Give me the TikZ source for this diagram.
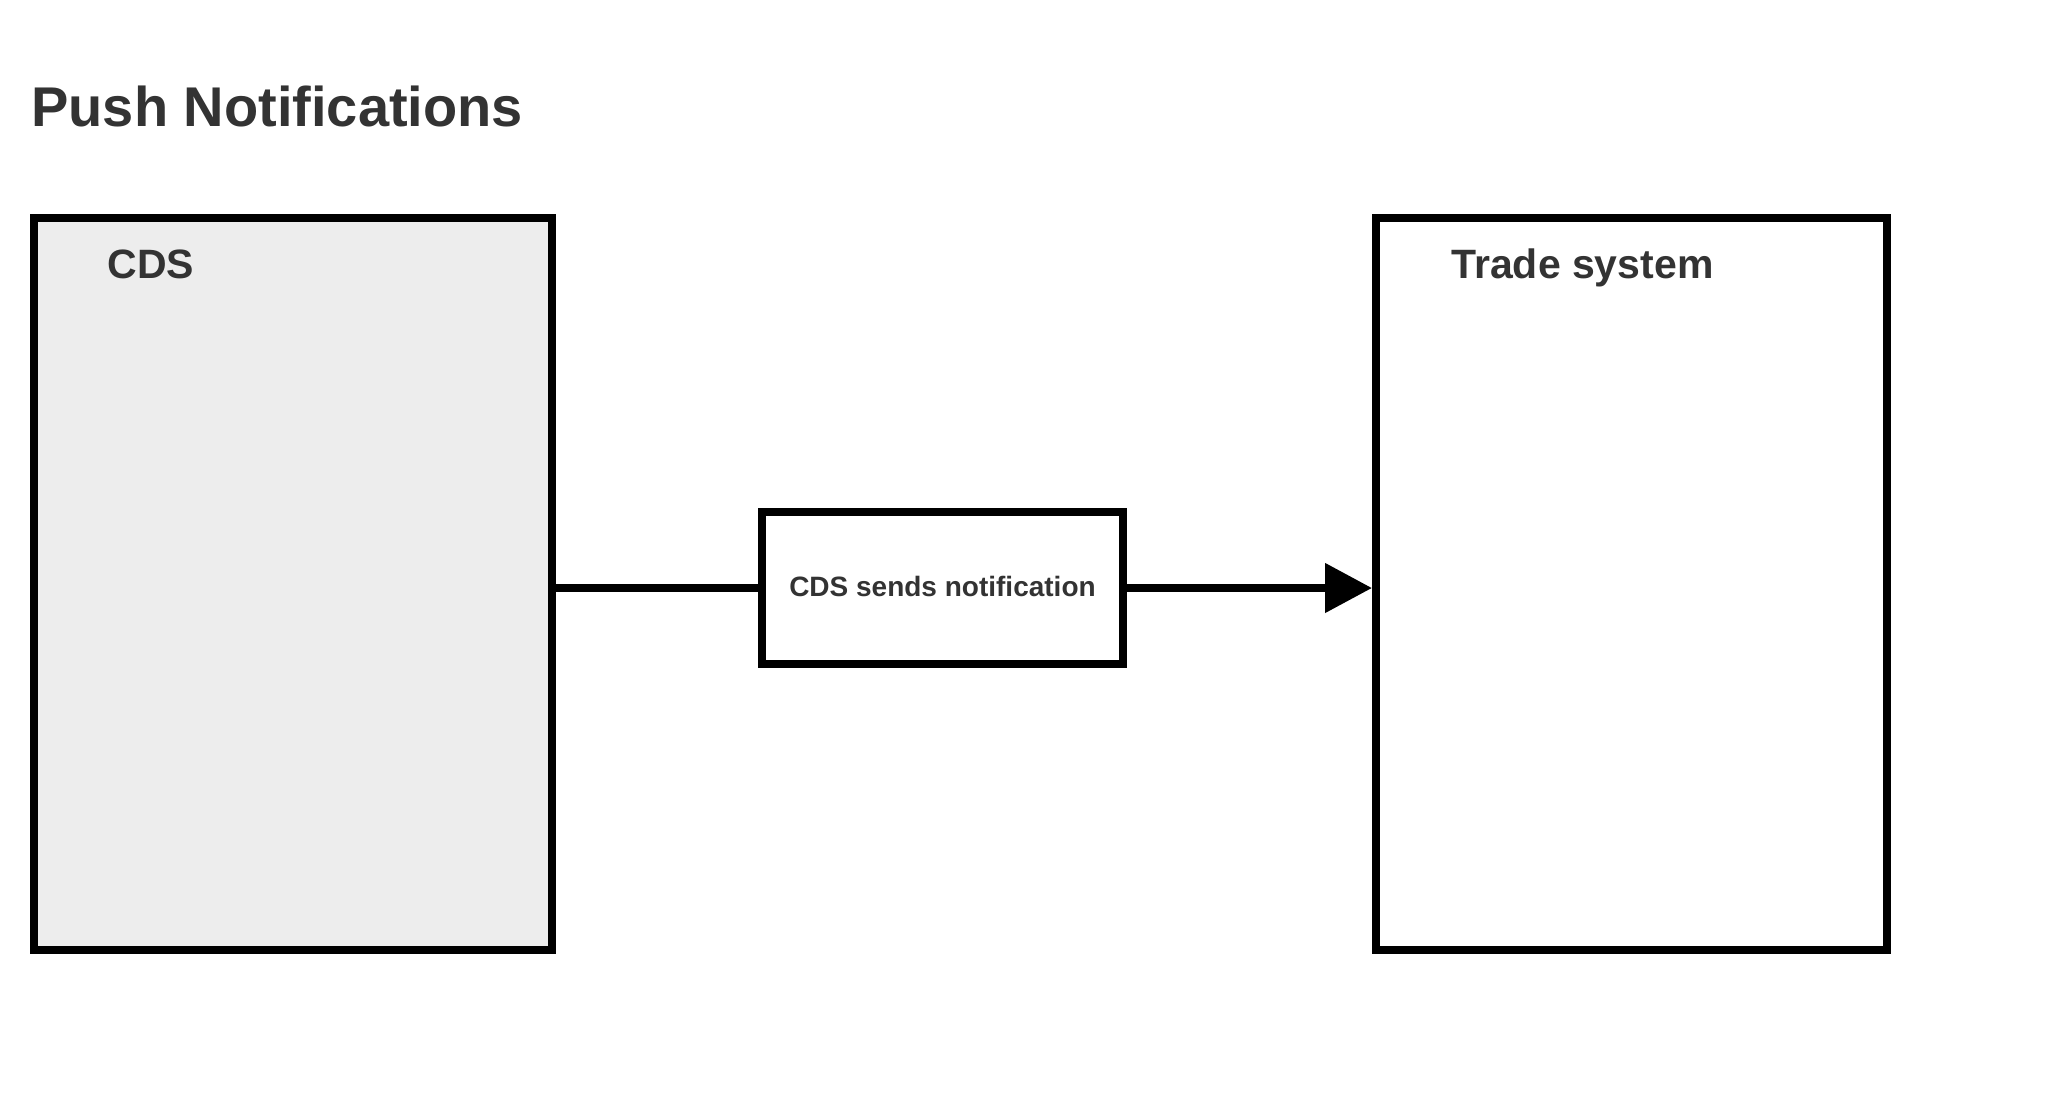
\documentclass[tikz,border=0pt]{standalone}
\usepackage{fontspec}
\setmainfont{Liberation Sans}
\usepackage{tikz}
\usetikzlibrary{positioning,arrows.meta}
\definecolor{cdsgrey}{HTML}{EDEDED}
\definecolor{inkgrey}{HTML}{333333}
\newcommand{\hshim}{101pt}
\newcommand{\hshimb}{122.5pt}
\newcommand{\vshim}{-2pt}
\newcommand{\vshimb}{2pt}
\newcommand{\heading}[1]{{\fontsize{28}{34}\selectfont\bfseries\color{inkgrey}#1}}
\newcommand{\sysname}[1]{{\fontsize{20.5}{25}\selectfont\bfseries\color{inkgrey}#1}}
\newcommand{\msgtext}[1]{\raisebox{2pt}{\fontsize{14}{17}\selectfont\bfseries\color{inkgrey}#1}}
\tikzset{
  sysbox/.style={draw, line width=4pt, minimum width=259pt, minimum height=366pt, inner sep=0pt},
  msgbox/.style={draw, line width=4pt, minimum width=180.5pt, minimum height=76pt, inner sep=0pt},
  flow/.style={line width=4pt},
  tag/.style={anchor=base west, inner sep=0pt}
}

\begin{document}
\begin{tikzpicture}
  \useasboundingbox (0,0) rectangle (1024pt,-552pt);

  \node (title) [tag] at (15.5pt,-63pt) {\heading{Push Notifications}};

  \node (cds)   [sysbox, fill=cdsgrey] at (146.5pt,-292pt) {};
  \node (msg)   [msgbox, right=\hshim of cds
                ,yshift=\vshim]  {\msgtext{CDS sends notification}};
  \node (trade) [sysbox, minimum width=255.5pt, right=\hshimb of msg
                ,yshift=\vshimb] {};

  %% names sit in the top left corner of each system
  \node (cdsname)   [tag] at ([shift={(38.5pt,-32pt)}]cds.north west)   {\sysname{CDS}};
  \node (tradename) [tag] at ([shift={(39.5pt,-32pt)}]trade.north west) {\sysname{Trade system}};

  \draw[flow] (cds.east |- msg) -- (msg.west);
  \draw[flow, -{Triangle[length=23.5pt,width=24pt]}] (msg.east) -- (trade.west |- msg);
\end{tikzpicture}
\end{document}
